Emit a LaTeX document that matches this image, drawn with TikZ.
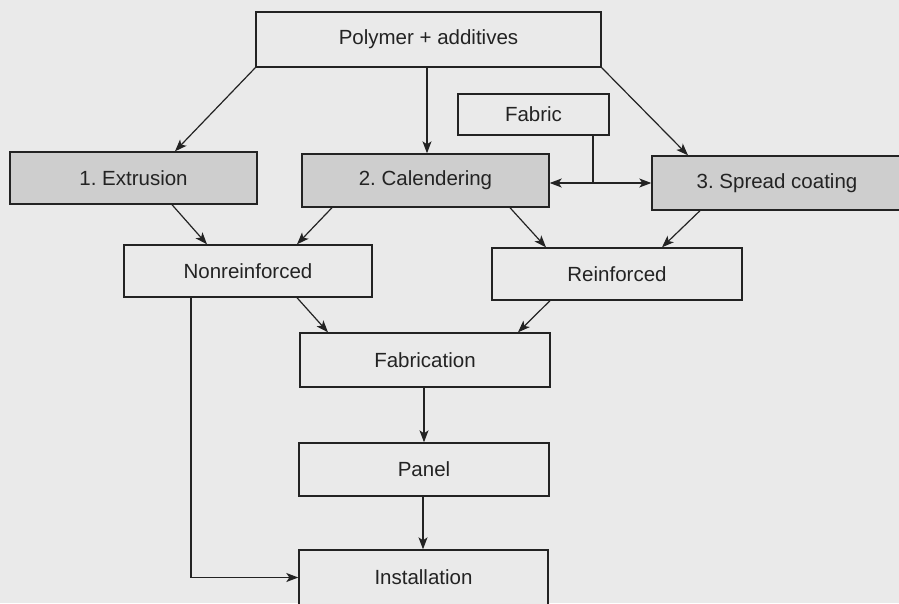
\documentclass[tikz,border=0pt]{standalone}
\usepackage{fontspec}
\setmainfont{Liberation Sans}
\frenchspacing
\usetikzlibrary{arrows.meta,calc}
\definecolor{bg}{RGB}{234,234,234}
\definecolor{shade}{RGB}{206,206,206}
\definecolor{ink}{RGB}{35,35,35}
\tikzset{
  box/.style={draw=ink, line width=1.4pt, fill=bg, text=ink, inner sep=0pt,
    font=\fontsize{20.5}{24}\selectfont, anchor=center},
  shadebox/.style={box, fill=shade},
  arr/.style={draw=ink, line width=1.2pt, -{Stealth[length=12pt,width=9pt,inset=3pt]}},
  ln/.style={draw=ink, line width=1.2pt}
}
\begin{document}
\begin{tikzpicture}[x=1pt,y=-1pt]
\clip (0,0) rectangle (899,603);
\fill[bg] (0,0) rectangle (899,603);
\node[box, minimum width=345pt, minimum height=55pt] (poly) at (428.5,39.5) {Polymer + additives};
\node[box, minimum width=151pt, minimum height=41pt] (fabric) at (533.5,114.5) {Fabric};
\node[shadebox, minimum width=247pt, minimum height=52pt] (extr) at (133.5,178) {1. Extrusion};
\node[shadebox, minimum width=247pt, minimum height=53pt] (cal) at (425.5,180.5) {2. Calendering};
\node[shadebox, minimum width=250pt, minimum height=54pt] (spread) at (777,183) {3. Spread coating};
\node[box, minimum width=248pt, minimum height=52pt] (nonr) at (248,271) {Nonreinforced};
\node[box, minimum width=250pt, minimum height=52pt] (reinf) at (617,274) {Reinforced};
\node[box, minimum width=250pt, minimum height=54pt] (fab) at (425,360) {Fabrication};
\node[box, minimum width=250pt, minimum height=53pt] (panel) at (424,469.5) {Panel};
\node[box, minimum width=249pt, minimum height=55pt] (inst) at (423.5,577.5) {Installation};
\coordinate (fj) at (593,183);
% from polymer
\draw[arr] (poly.south west) -- ([xshift=41.5pt]extr.north);
\draw[arr] ([xshift=-1.5pt]poly.south) -- ([xshift=1.5pt]cal.north);
\draw[arr] (poly.south east) -- ([xshift=-89pt]spread.north);
% fabric
\draw[ln] ([xshift=59.5pt]fabric.south) -- (fj);
\draw[arr] (fj) -- (cal.east |- fj);
\draw[arr] (fj) -- (spread.west |- fj);
% to nonreinforced / reinforced
\draw[arr] ([xshift=38.5pt]extr.south) -- ([xshift=-41pt]nonr.north);
\draw[arr] ([xshift=-93.5pt]cal.south) -- ([xshift=49pt]nonr.north);
\draw[arr] ([xshift=84.5pt]cal.south) -- ([xshift=-71pt]reinf.north);
\draw[arr] ([xshift=-77pt]spread.south) -- ([xshift=45pt]reinf.north);
% to fabrication
\draw[arr] ([xshift=49pt]nonr.south) -- ([xshift=-97pt]fab.north);
\draw[arr] ([xshift=-67pt]reinf.south) -- ([xshift=93pt]fab.north);
% bypass
\draw[arr] ([xshift=-57pt]nonr.south) |- (inst.west);
% chain
\draw[arr] ([xshift=-1pt]fab.south) -- (panel.north);
\draw[arr] ([xshift=-1pt]panel.south) -- ([xshift=-0.5pt]inst.north);
\end{tikzpicture}
\end{document}
